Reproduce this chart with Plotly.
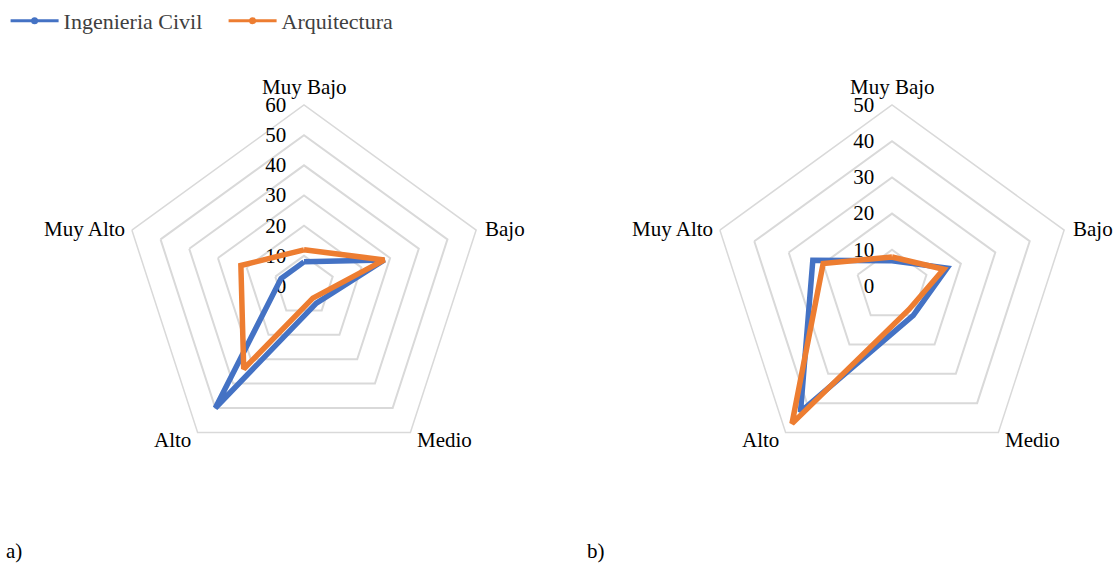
import math
import plotly.graph_objects as go

# Categories around the radar (clockwise from the top)
categories = ["Muy Bajo", "Bajo", "Medio", "Alto", "Muy Alto"]

# Panel a)
civil_a = [8, 28, 7, 50, 8]
arq_a = [12, 28, 5, 34, 22]

# Panel b)
civil_b = [7, 16, 10, 43, 23]
arq_b = [8, 15, 8, 47, 20]

series_names = ["Ingenieria Civil", "Arquitectura"]
panel_labels = ["a)", "b)"]
radial_max = [60, 50]

BLUE = "#4472C4"
ORANGE = "#ED7D31"
GRID = "#D9D9D9"
FONT = "Liberation Serif"

W, H = 1118, 567


def closed(vals):
    return list(vals) + [vals[0]]


fig = go.Figure()

panels = [("polar", civil_a, arq_a), ("polar2", civil_b, arq_b)]
for subplot, civ, arq in panels:
    for name, vals, col in ((series_names[0], civ, BLUE), (series_names[1], arq, ORANGE)):
        fig.add_trace(go.Scatterpolar(
            r=closed(vals), theta=closed(categories), subplot=subplot,
            mode="lines", name=name, showlegend=False,
            line=dict(color=col, width=5.5),
        ))

# Legend entries (line with a dot marker)
for name, col in ((series_names[0], BLUE), (series_names[1], ORANGE)):
    fig.add_trace(go.Scatterpolar(
        r=[None], theta=[None], subplot="polar", mode="lines+markers",
        name=name, line=dict(color=col, width=3),
        marker=dict(color=col, size=7),
    ))

# radius of each radar (px)
RAD = 181
centers = [(304, 286), (892, 286)]


def domain(cx, cy):
    x0, x1 = (cx - RAD) / W, (cx + RAD) / W
    yb = H - cy
    y0, y1 = (yb - RAD) / H, (yb + RAD) / H
    return dict(x=[x0, x1], y=[y0, y1])


def polar_layout(cx, cy, rmax):
    return dict(
        domain=domain(cx, cy),
        bgcolor="rgba(0,0,0,0)",
        gridshape="linear",
        angularaxis=dict(
            rotation=90, direction="clockwise",
            categoryorder="array", categoryarray=categories,
            showgrid=False, showline=True, linecolor=GRID, linewidth=1.5,
            ticks="", showticklabels=False,
            layer="below traces",
        ),
        radialaxis=dict(
            range=[0, rmax], dtick=10, angle=90, tickangle=90,
            showline=False, gridcolor=GRID, gridwidth=1.5,
            ticks="outside", ticklen=10, tickcolor="rgba(0,0,0,0)",
            side="counterclockwise",
            tickfont=dict(family=FONT, size=21, color="#000000"),
            layer="below traces",
        ),
    )


fig.update_layout(
    width=W, height=H,
    margin=dict(l=0, r=0, t=0, b=0),
    paper_bgcolor="white", plot_bgcolor="white",
    polar=polar_layout(*centers[0], radial_max[0]),
    polar2=polar_layout(*centers[1], radial_max[1]),
    showlegend=True,
    legend=dict(
        orientation="h", x=0.005, y=1.0, xanchor="left", yanchor="top",
        font=dict(family=FONT, size=22, color="#404040"),
        itemwidth=48, entrywidth=155, bgcolor="rgba(0,0,0,0)",
    ),
)

# Category labels placed just outside each outer vertex
label_style = {
    # index: (xanchor, yanchor, dx px, dy px)  with dy positive = up
    0: ("center", "bottom", 0, 5),
    1: ("left", "middle", 8, 1),
    2: ("left", "middle", 6, -8),
    3: ("right", "middle", -6, -8),
    4: ("right", "middle", -6, 1),
}
for cx, cy in centers:
    for k, cat in enumerate(categories):
        ang = math.radians(90 - 72 * k)
        vx = cx + RAD * math.cos(ang)
        vy = (H - cy) + RAD * math.sin(ang)
        xa, ya, dx, dy = label_style[k]
        fig.add_annotation(
            text=cat, x=(vx + dx) / W, y=(vy + dy) / H,
            xref="paper", yref="paper", xanchor=xa, yanchor=ya,
            showarrow=False, borderpad=0,
            font=dict(family=FONT, size=21, color="#000000"),
        )

for lbl, xpx in zip(panel_labels, (4, 585)):
    fig.add_annotation(
        text=lbl, x=xpx / W, y=2 / H, xref="paper", yref="paper",
        xanchor="left", yanchor="bottom", showarrow=False,
        font=dict(family=FONT, size=21, color="#000000"),
    )

fig.write_html("out.html")
